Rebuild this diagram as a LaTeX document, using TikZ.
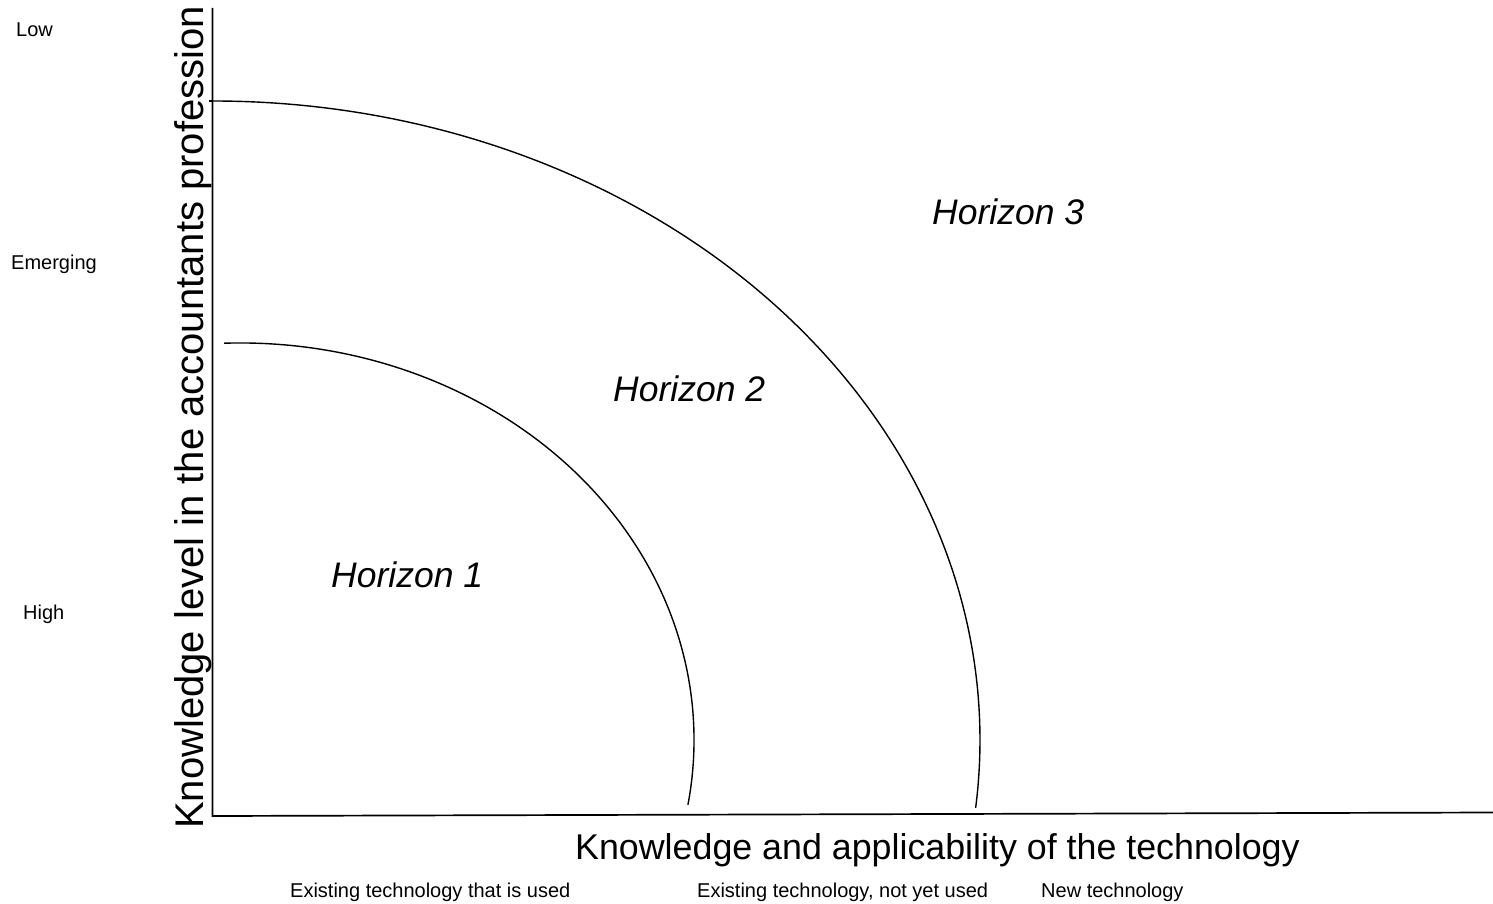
\documentclass[tikz,border=0pt]{standalone}
\usepackage{fontspec}
\setmainfont{Liberation Sans}
\begin{document}
\begin{tikzpicture}[x=1pt,y=-1pt,
  axisline/.style={line width=1.7pt},
  arcline/.style={line width=1.4pt},
  txt/.style={inner sep=0pt,anchor=base west},
  small/.style={txt,font=\fontsize{20}{24}\selectfont},
  horizon/.style={txt,font=\fontsize{35.5}{42}\selectfont\itshape},
  axislabel/.style={txt,font=\fontsize{35.8}{42}\selectfont}]
\useasboundingbox (0,0) rectangle (1493,904);
% axes
\coordinate (ytop) at (212.5,8);
\coordinate (origin) at (212.5,816);
\coordinate (xend) at (1493,812.5);
\draw[axisline] (ytop) -- (origin) -- (xend);
% tick
\coordinate (tick) at (209,101);
\draw[arcline] (tick) -- (213,101);
% outer arc
\coordinate (outerstart) at (213,101);
\draw[arcline] (outerstart) arc[start angle=90, end angle=-6.1, x radius=767pt, y radius=639pt];
% inner arc
\coordinate (innerstart) at (224.2,343.2);
\draw[arcline] (innerstart) arc[start angle=92, end angle=-9.4, x radius=454pt, y radius=397pt];
% horizon labels
\node[horizon] (h1) at (331,587) {Horizon 1};
\node[horizon] (h2) at (613,401) {Horizon 2};
\node[horizon] (h3) at (932,225) {Horizon 3};
% axis labels
\node[axislabel] (xlab) at (575,859) {Knowledge and applicability of the technology};
\node[txt,rotate=90,font=\fontsize{40}{48}\selectfont] (ylab) at (203,829) {Knowledge level in the accountants profession};
% side labels
\node[small] (low) at (16,37) {Low};
\node[small] (emerging) at (11,269) {Emerging};
\node[small] (high) at (23,619) {High};
% bottom labels
\node[small] (b1) at (290,897) {Existing technology that is used};
\node[small] (b2) at (697,897) {Existing technology, not yet used};
\node[small] (b3) at (1041,897) {New technology};
\end{tikzpicture}
\end{document}
